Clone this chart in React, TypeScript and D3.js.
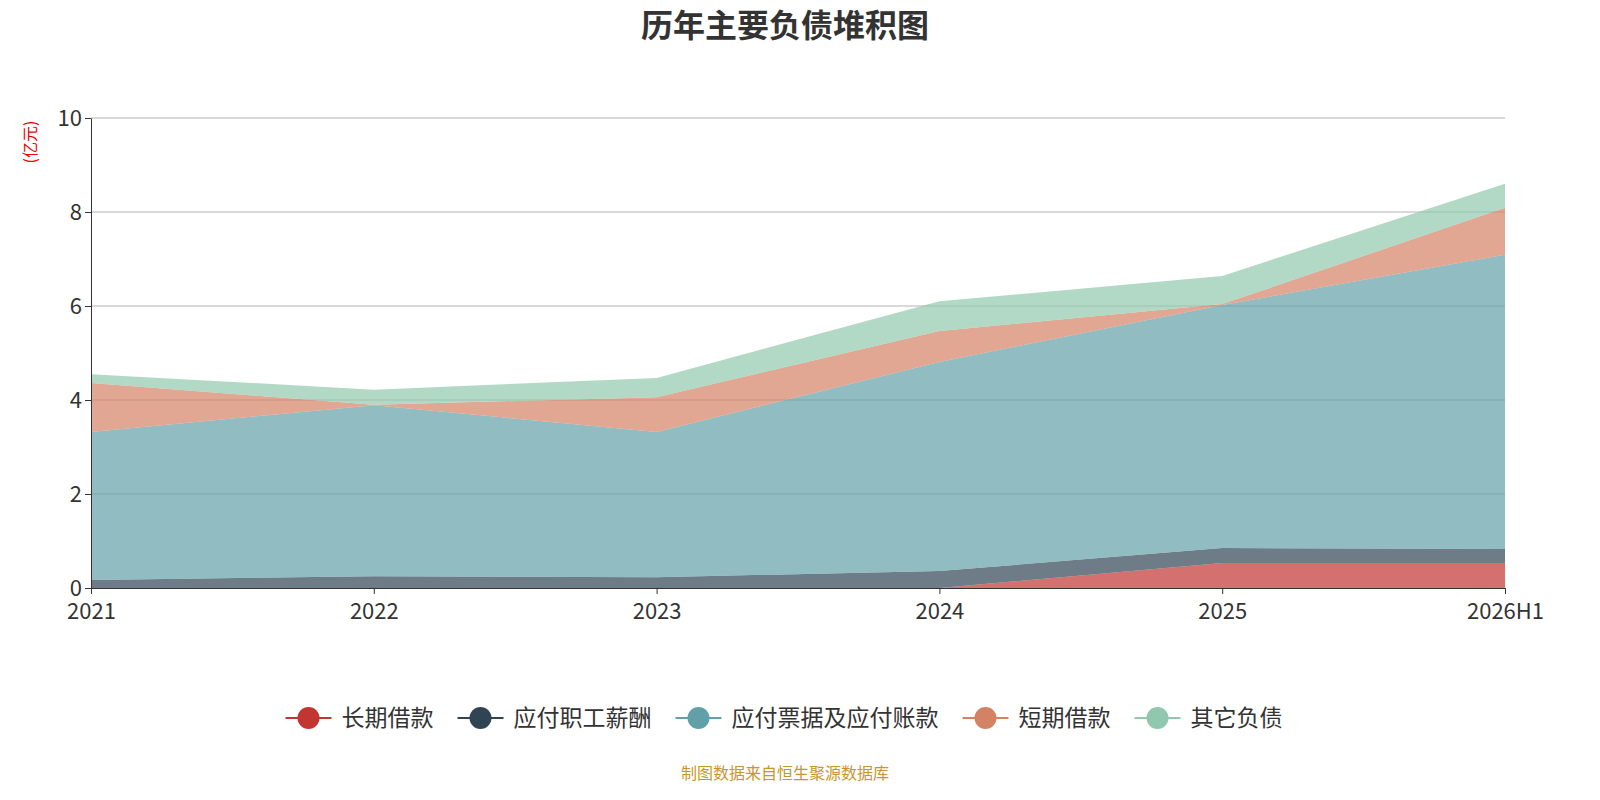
import { useEffect, useRef } from "react";
import * as d3 from "d3";

const years = ["2021", "2022", "2023", "2024", "2025", "2026H1"];
const seriesNames = ["长期借款", "应付职工薪酬", "应付票据及应付账款", "短期借款", "其它负债"];
const colors = ["#c23531", "#2f4554", "#61a0a8", "#d48265", "#91c7ae"];
const longLoan = [0, 0, 0, 0, 0.53, 0.53];
const staffPay = [0.17, 0.25, 0.23, 0.36, 0.32, 0.3];
const payables = [3.15, 3.64, 3.09, 4.45, 5.17, 6.26];
const shortLoan = [1.04, 0.01, 0.74, 0.66, 0.02, 1.0];
const otherDebt = [0.19, 0.32, 0.41, 0.63, 0.6, 0.51];
const yTicks = [0, 2, 4, 6, 8, 10];

export default function App() {
  const ref = useRef<SVGSVGElement>(null);

  useEffect(() => {
    if (!ref.current) return;
    const svg = d3.select(ref.current);
    svg.selectAll("*").remove();
    const font = "'Noto Sans CJK SC', 'Noto Sans', sans-serif";
    const left = 83, right = 1497, top = 110, bottom = 580;

    const x = d3.scalePoint<string>().domain(years).range([left, right]);
    const y = d3.scaleLinear().domain([0, 10]).range([bottom, top]);

    const rows = years.map((yr, i) => ({
      yr, s0: longLoan[i], s1: staffPay[i], s2: payables[i], s3: shortLoan[i], s4: otherDebt[i],
    }));
    const stack = d3.stack<any>().keys(["s0", "s1", "s2", "s3", "s4"])(rows);

    svg.append("text").attr("x", 777).attr("y", 29).attr("text-anchor", "middle")
      .attr("font-family", font).attr("font-size", 32).attr("font-weight", "bold")
      .attr("fill", "#333").text("历年主要负债堆积图");

    // grid
    svg.append("g").selectAll("line").data(yTicks.filter(t => t > 0)).enter().append("line")
      .attr("x1", left).attr("x2", right).attr("y1", d => y(d)).attr("y2", d => y(d))
      .attr("stroke", "#ccc").attr("stroke-width", 1.5);

    const area = d3.area<any>().x(d => x(d.data.yr)!).y0(d => y(d[0])).y1(d => y(d[1]));
    svg.append("g").selectAll("path").data(stack).enter().append("path")
      .attr("d", area).attr("fill", (_, i) => colors[i]).attr("fill-opacity", 0.7);

    // axes
    const ya = svg.append("g").attr("transform", `translate(${left},0)`)
      .call(d3.axisLeft(y).tickValues(yTicks).tickSize(6).tickSizeOuter(0));
    ya.selectAll("text").attr("font-family", font).attr("font-size", 22).attr("fill", "#333");
    ya.selectAll("path, line").attr("stroke", "#333");

    const xa = svg.append("g").attr("transform", `translate(0,${bottom})`)
      .call(d3.axisBottom(x).tickSize(6).tickSizeOuter(0));
    xa.selectAll("text").attr("font-family", font).attr("font-size", 22).attr("fill", "#333").attr("dy", "1em");
    xa.selectAll("path, line").attr("stroke", "#333");

    svg.append("text").attr("transform", "translate(28,134) rotate(-90)").attr("text-anchor", "middle")
      .attr("font-family", font).attr("font-size", 16).attr("fill", "#e00").text("(亿元)");

    // legend
    const widths = seriesNames.map(n => 58 + n.length * 23 + 22);
    const total = d3.sum(widths) - 22;
    let lx = 777 - total / 2;
    const lg = svg.append("g");
    seriesNames.forEach((n, i) => {
      const g = lg.append("g").attr("transform", `translate(${lx},710)`);
      g.append("line").attr("x1", 0).attr("x2", 46).attr("stroke", colors[i]).attr("stroke-width", 2);
      g.append("circle").attr("cx", 23).attr("r", 11).attr("fill", colors[i]);
      g.append("text").attr("x", 56).attr("dy", "0.35em").attr("font-family", font)
        .attr("font-size", 23).attr("fill", "#333").text(n);
      lx += widths[i];
    });

    svg.append("text").attr("x", 777).attr("y", 771).attr("text-anchor", "middle")
      .attr("font-family", font).attr("font-size", 16).attr("fill", "#c8962a").text("制图数据来自恒生聚源数据库");
  }, []);

  return <svg ref={ref} width={1584} height={784} style={{ display: "block" }} />;
}
